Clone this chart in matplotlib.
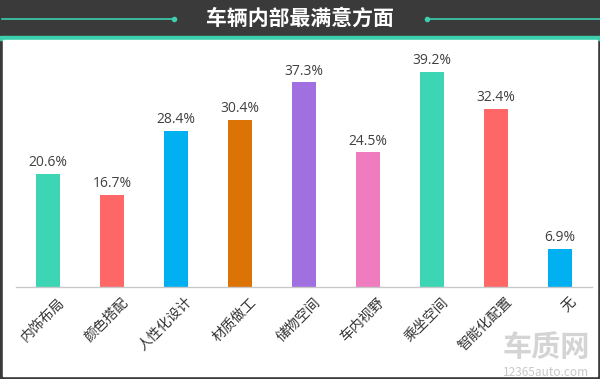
import matplotlib
matplotlib.use("Agg")
import matplotlib.pyplot as plt
from matplotlib.patches import Rectangle
import matplotlib.transforms as mtransforms

plt.rcParams['font.family'] = ['Noto Sans CJK SC', 'DejaVu Sans']

# data
categories = ["内饰布局", "颜色搭配", "人性化设计", "材质做工", "储物空间",
              "车内视野", "乘坐空间", "智能化配置", "无"]
values = [20.6, 16.7, 28.4, 30.4, 37.3, 24.5, 39.2, 32.4, 6.9]
colors = ["#3dd6b5", "#ff6666", "#00b0f0", "#dc7306", "#a070e0",
          "#f07cc0", "#3dd6b5", "#ff6666", "#00b0f0"]
title = "车辆内部最满意方面"

W, H = 600, 379
fig = plt.figure(figsize=(W / 100, H / 100), dpi=100)
fig.patch.set_facecolor("#3a3a3a")

# background layer in pixel coords
bg = fig.add_axes([0, 0, 1, 1], zorder=0)
bg.set_xlim(0, W)
bg.set_ylim(H, 0)
bg.axis("off")
bg.add_patch(Rectangle((0, 0), W, 36, color="#3a3a3a"))
bg.add_patch(Rectangle((0, 36), W, 4, color="#3ccfae"))
bg.add_patch(Rectangle((3, 40), W - 6, H - 43, color="white"))
# header decoration
bg.plot([2, 174], [18.5, 18.5], color="#3ccfae", lw=1.2)
bg.plot([427, 600], [18.5, 18.5], color="#3ccfae", lw=1.2)
bg.plot([174, 427], [18.5, 18.5], ls="none", marker="o", ms=3, color="#3ccfae")
bg.text(300, 18, title, color="white", fontsize=15, fontweight="bold",
        ha="center", va="center")
# watermark
bg.text(546, 347, "车质网", color="#d4d4d4", fontsize=21, fontweight="bold",
        ha="center", va="center")
bg.text(546, 372, "12365auto.com", color="#c8c8c8", fontsize=8.5,
        ha="center", va="center")

# main chart
ax = fig.add_axes([16 / W, 1 - 286.5 / H, 576 / W, (286.5 - 55) / H], zorder=1)
ax.patch.set_alpha(0)
x = list(range(len(categories)))
ax.bar(x, values, width=0.36, color=colors)
for xi, v in zip(x, values):
    ax.text(xi, v + 0.7, f"{v}%", ha="center", va="bottom", fontsize=10,
            color="#404040", family=["Open Sans", "DejaVu Sans"])

ax.set_xlim(-0.5, len(categories) - 0.5)
ax.set_ylim(0, 42.3)
ax.set_yticks([])
for s in ["top", "right", "left"]:
    ax.spines[s].set_visible(False)
ax.spines["bottom"].set_color("#c8c8c8")
ax.spines["bottom"].set_linewidth(1)
ax.set_xticks(x)
ax.set_xticklabels(categories, rotation=45, ha="right", va="top",
                   rotation_mode="anchor", fontsize=10, color="#333333")
ax.tick_params(axis="x", length=0, pad=6)
offset = mtransforms.ScaledTranslation(9 / 100, 0, fig.dpi_scale_trans)
for lab in ax.get_xticklabels():
    lab.set_transform(lab.get_transform() + offset)

fig.savefig("out.png", dpi=100, facecolor=fig.get_facecolor())
